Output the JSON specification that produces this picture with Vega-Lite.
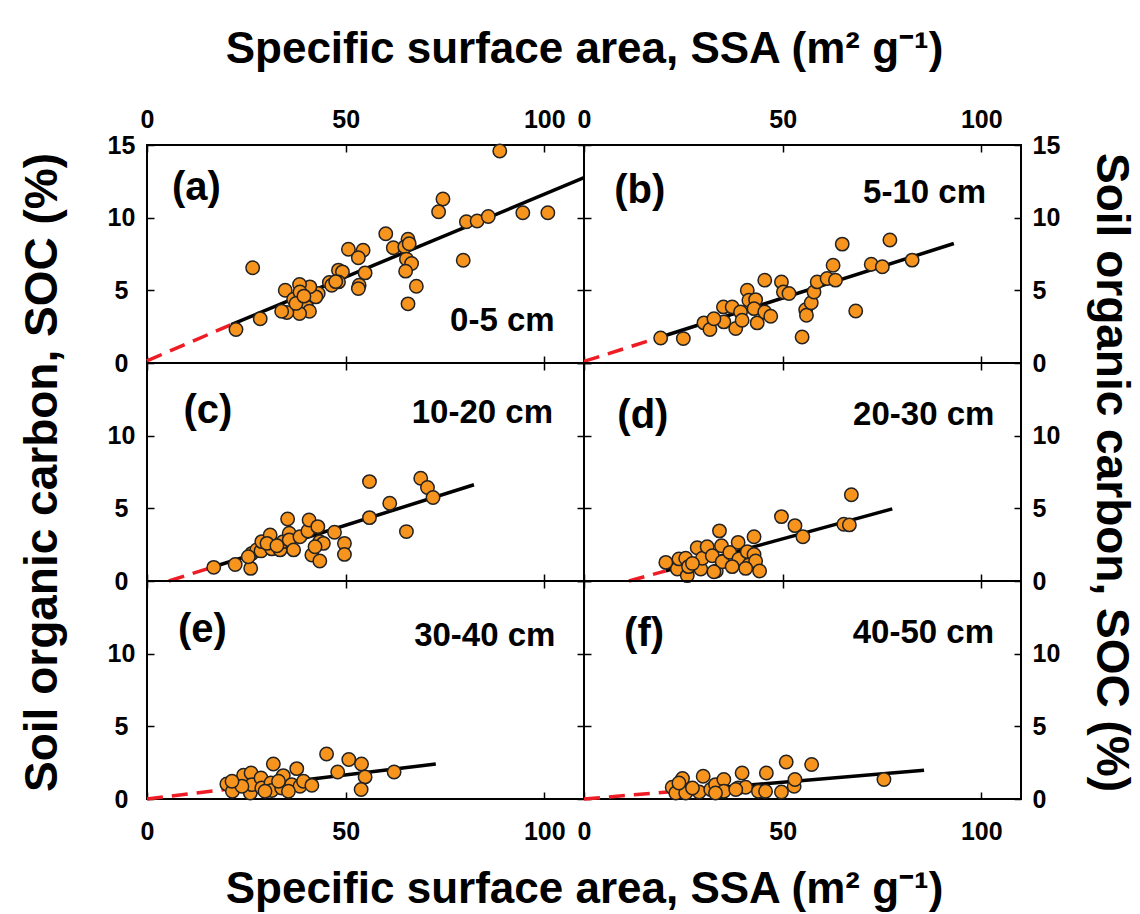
{
  "$schema": "https://vega.github.io/schema/vega-lite/v6.json",
  "background": "white",
  "padding": {"left": 17, "top": 26, "right": 5, "bottom": 5},
  "spacing": 0,
  "bounds": "flush",
  "columns": 2,
  "datasets": {
    "pts": [
      {"p":"a","x":88.8,"y":14.59},{"p":"a","x":74.5,"y":11.28},{"p":"a","x":73.4,"y":10.41},{"p":"a","x":94.6,"y":10.34},{"p":"a","x":100.9,"y":10.34},{"p":"a","x":80.4,"y":9.72},{"p":"a","x":83.1,"y":9.77},{"p":"a","x":85.9,"y":10.08},{"p":"a","x":60.1,"y":8.89},{"p":"a","x":65.7,"y":8.52},{"p":"a","x":62.0,"y":7.93},{"p":"a","x":64.9,"y":7.99},{"p":"a","x":65.3,"y":7.15},{"p":"a","x":66.6,"y":6.85},{"p":"a","x":65.1,"y":6.32},{"p":"a","x":67.8,"y":5.28},{"p":"a","x":65.7,"y":4.07},{"p":"a","x":79.6,"y":7.07},{"p":"a","x":50.7,"y":7.83},{"p":"a","x":54.4,"y":7.76},{"p":"a","x":53.2,"y":7.24},{"p":"a","x":54.9,"y":6.2},{"p":"a","x":53.4,"y":5.35},{"p":"a","x":53.2,"y":5.12},{"p":"a","x":48.2,"y":6.39},{"p":"a","x":49.2,"y":6.27},{"p":"a","x":48.2,"y":5.58},{"p":"a","x":45.9,"y":5.54},{"p":"a","x":46.5,"y":5.35},{"p":"a","x":43.1,"y":4.78},{"p":"a","x":42.5,"y":4.55},{"p":"a","x":41.0,"y":5.24},{"p":"a","x":38.4,"y":5.4},{"p":"a","x":34.8,"y":5.01},{"p":"a","x":36.9,"y":4.39},{"p":"a","x":38.5,"y":4.89},{"p":"a","x":40.2,"y":3.86},{"p":"a","x":40.9,"y":3.56},{"p":"a","x":38.4,"y":3.4},{"p":"a","x":35.2,"y":3.47},{"p":"a","x":33.9,"y":3.56},{"p":"a","x":28.5,"y":3.05},{"p":"a","x":22.4,"y":2.3},{"p":"a","x":26.6,"y":6.55},{"p":"a","x":37.5,"y":4.1},{"p":"a","x":39.5,"y":4.6},{"p":"a","x":47.5,"y":5.6},{"p":"a","x":66.0,"y":8.2},
      {"p":"b","x":19.3,"y":1.72},{"p":"b","x":25.0,"y":1.68},{"p":"b","x":30.2,"y":2.76},{"p":"b","x":31.7,"y":2.3},{"p":"b","x":35.1,"y":3.86},{"p":"b","x":35.2,"y":2.83},{"p":"b","x":37.3,"y":3.86},{"p":"b","x":38.2,"y":2.37},{"p":"b","x":39.4,"y":3.51},{"p":"b","x":39.8,"y":2.94},{"p":"b","x":41.1,"y":5.01},{"p":"b","x":41.5,"y":4.32},{"p":"b","x":43.2,"y":4.36},{"p":"b","x":42.8,"y":3.74},{"p":"b","x":43.6,"y":2.76},{"p":"b","x":45.5,"y":5.7},{"p":"b","x":45.5,"y":3.51},{"p":"b","x":47.0,"y":3.22},{"p":"b","x":49.7,"y":5.58},{"p":"b","x":50.2,"y":4.89},{"p":"b","x":51.6,"y":4.78},{"p":"b","x":54.9,"y":1.79},{"p":"b","x":55.8,"y":3.67},{"p":"b","x":56.0,"y":3.29},{"p":"b","x":57.2,"y":4.14},{"p":"b","x":57.9,"y":4.89},{"p":"b","x":58.7,"y":5.58},{"p":"b","x":61.2,"y":5.81},{"p":"b","x":63.3,"y":5.7},{"p":"b","x":62.7,"y":6.73},{"p":"b","x":65.0,"y":8.18},{"p":"b","x":68.4,"y":3.58},{"p":"b","x":72.3,"y":6.8},{"p":"b","x":75.1,"y":6.62},{"p":"b","x":77.0,"y":8.46},{"p":"b","x":82.6,"y":7.08},{"p":"b","x":32.7,"y":3.05},
      {"p":"c","x":16.8,"y":0.94},{"p":"c","x":22.2,"y":1.14},{"p":"c","x":26.1,"y":0.87},{"p":"c","x":26.4,"y":1.9},{"p":"c","x":27.6,"y":2.14},{"p":"c","x":28.7,"y":2.07},{"p":"c","x":28.9,"y":2.71},{"p":"c","x":31.0,"y":3.17},{"p":"c","x":31.4,"y":2.21},{"p":"c","x":33.5,"y":2.14},{"p":"c","x":34.3,"y":2.71},{"p":"c","x":35.4,"y":4.27},{"p":"c","x":35.8,"y":3.28},{"p":"c","x":35.8,"y":2.83},{"p":"c","x":36.9,"y":2.14},{"p":"c","x":38.5,"y":3.05},{"p":"c","x":40.5,"y":3.44},{"p":"c","x":40.8,"y":4.2},{"p":"c","x":43.0,"y":3.74},{"p":"c","x":41.5,"y":1.79},{"p":"c","x":43.5,"y":1.38},{"p":"c","x":43.5,"y":2.71},{"p":"c","x":44.4,"y":2.59},{"p":"c","x":47.2,"y":3.35},{"p":"c","x":49.7,"y":2.59},{"p":"c","x":49.7,"y":1.83},{"p":"c","x":56.0,"y":4.36},{"p":"c","x":56.0,"y":6.84},{"p":"c","x":61.1,"y":5.35},{"p":"c","x":65.3,"y":3.4},{"p":"c","x":68.9,"y":7.07},{"p":"c","x":70.6,"y":6.43},{"p":"c","x":72.0,"y":5.74},{"p":"c","x":25.5,"y":1.67},{"p":"c","x":30.2,"y":2.59},{"p":"c","x":32.7,"y":2.43},{"p":"c","x":42.3,"y":2.36},
      {"p":"d","x":20.6,"y":1.28},{"p":"d","x":23.5,"y":0.83},{"p":"d","x":23.9,"y":1.52},{"p":"d","x":25.6,"y":1.56},{"p":"d","x":26.0,"y":0.37},{"p":"d","x":26.3,"y":0.99},{"p":"d","x":28.5,"y":2.29},{"p":"d","x":29.4,"y":0.83},{"p":"d","x":29.8,"y":1.56},{"p":"d","x":31.0,"y":2.36},{"p":"d","x":32.3,"y":1.74},{"p":"d","x":33.3,"y":0.69},{"p":"d","x":34.1,"y":3.45},{"p":"d","x":34.6,"y":2.43},{"p":"d","x":34.8,"y":1.33},{"p":"d","x":36.7,"y":1.97},{"p":"d","x":38.8,"y":2.66},{"p":"d","x":39.0,"y":1.52},{"p":"d","x":41.1,"y":2.02},{"p":"d","x":41.5,"y":1.1},{"p":"d","x":42.8,"y":3.05},{"p":"d","x":42.8,"y":1.83},{"p":"d","x":43.2,"y":1.38},{"p":"d","x":44.2,"y":0.69},{"p":"d","x":49.7,"y":4.43},{"p":"d","x":53.1,"y":3.81},{"p":"d","x":55.1,"y":3.05},{"p":"d","x":65.4,"y":3.9},{"p":"d","x":66.8,"y":3.86},{"p":"d","x":67.3,"y":5.93},{"p":"d","x":27.3,"y":1.21},{"p":"d","x":37.3,"y":0.99},{"p":"d","x":40.7,"y":0.87},{"p":"d","x":32.7,"y":0.64},
      {"p":"e","x":20.1,"y":1.03},{"p":"e","x":21.5,"y":0.53},{"p":"e","x":24.3,"y":1.63},{"p":"e","x":26.2,"y":1.79},{"p":"e","x":26.0,"y":0.41},{"p":"e","x":26.4,"y":0.99},{"p":"e","x":28.7,"y":1.45},{"p":"e","x":28.9,"y":0.76},{"p":"e","x":31.2,"y":1.1},{"p":"e","x":31.8,"y":2.41},{"p":"e","x":31.4,"y":0.58},{"p":"e","x":33.9,"y":0.76},{"p":"e","x":34.3,"y":1.61},{"p":"e","x":36.4,"y":0.99},{"p":"e","x":37.7,"y":2.09},{"p":"e","x":38.5,"y":0.88},{"p":"e","x":39.4,"y":1.22},{"p":"e","x":41.5,"y":0.94},{"p":"e","x":45.2,"y":3.1},{"p":"e","x":48.0,"y":1.86},{"p":"e","x":50.8,"y":2.72},{"p":"e","x":54.0,"y":2.41},{"p":"e","x":54.9,"y":1.52},{"p":"e","x":53.9,"y":0.65},{"p":"e","x":62.2,"y":1.86},{"p":"e","x":23.9,"y":0.88},{"p":"e","x":29.7,"y":0.53},{"p":"e","x":35.6,"y":0.53},{"p":"e","x":33.1,"y":1.22},{"p":"e","x":21.4,"y":1.22},
      {"p":"f","x":22.2,"y":0.81},{"p":"f","x":23.1,"y":0.41},{"p":"f","x":24.8,"y":1.41},{"p":"f","x":25.6,"y":0.41},{"p":"f","x":29.0,"y":0.48},{"p":"f","x":30.0,"y":1.56},{"p":"f","x":31.9,"y":0.65},{"p":"f","x":33.1,"y":0.99},{"p":"f","x":35.2,"y":1.34},{"p":"f","x":35.2,"y":0.53},{"p":"f","x":38.8,"y":0.76},{"p":"f","x":39.8,"y":1.79},{"p":"f","x":40.7,"y":0.81},{"p":"f","x":43.9,"y":0.53},{"p":"f","x":45.9,"y":1.79},{"p":"f","x":45.7,"y":0.53},{"p":"f","x":49.7,"y":0.48},{"p":"f","x":50.9,"y":2.55},{"p":"f","x":52.9,"y":0.88},{"p":"f","x":53.1,"y":1.34},{"p":"f","x":57.3,"y":2.37},{"p":"f","x":75.5,"y":1.34},{"p":"f","x":27.3,"y":0.76},{"p":"f","x":38.2,"y":0.65},{"p":"f","x":33.1,"y":0.41},{"p":"f","x":23.9,"y":1.1}
    ],
    "lines": [
      {"p":"a","k":"fit","x":21.2,"y":2.64},{"p":"a","k":"fit","x":110,"y":12.75},{"p":"a","k":"ext","x":0,"y":0.15},{"p":"a","k":"ext","x":21.2,"y":2.64},
      {"p":"b","k":"fit","x":19.3,"y":1.79},{"p":"b","k":"fit","x":93.1,"y":8.22},{"p":"b","k":"ext","x":0,"y":0.11},{"p":"b","k":"ext","x":19.3,"y":1.79},
      {"p":"c","k":"fit","x":16.8,"y":0.98},{"p":"c","k":"fit","x":82.3,"y":6.62},{"p":"c","k":"ext","x":5.5,"y":0},{"p":"c","k":"ext","x":16.8,"y":0.98},
      {"p":"d","k":"fit","x":20.6,"y":0.7},{"p":"d","k":"fit","x":77.6,"y":4.96},{"p":"d","k":"ext","x":11.3,"y":0},{"p":"d","k":"ext","x":20.6,"y":0.7},
      {"p":"e","k":"fit","x":20.1,"y":0.67},{"p":"e","k":"fit","x":72.7,"y":2.41},{"p":"e","k":"ext","x":0,"y":0},{"p":"e","k":"ext","x":20.1,"y":0.67},
      {"p":"f","k":"fit","x":21.8,"y":0.5},{"p":"f","k":"fit","x":85.6,"y":1.98},{"p":"f","k":"ext","x":0,"y":0},{"p":"f","k":"ext","x":21.8,"y":0.5}
    ],
    "labels": [
      {"p":"a","k":"pl","t":"(a)","x":6.3,"y":11.2},{"p":"a","k":"dp","t":"0-5 cm","x":102.6,"y":2.2},
      {"p":"b","k":"pl","t":"(b)","x":7.6,"y":11.0},{"p":"b","k":"dp","t":"5-10 cm","x":101.2,"y":11.0},
      {"p":"c","k":"pl","t":"(c)","x":9.2,"y":10.86},{"p":"c","k":"dp","t":"10-20 cm","x":102.2,"y":10.86},
      {"p":"d","k":"pl","t":"(d)","x":8.4,"y":10.5},{"p":"d","k":"dp","t":"20-30 cm","x":103.3,"y":10.7},
      {"p":"e","k":"pl","t":"(e)","x":7.8,"y":10.8},{"p":"e","k":"dp","t":"30-40 cm","x":102.8,"y":10.5},
      {"p":"f","k":"pl","t":"(f)","x":10.1,"y":10.5},{"p":"f","k":"dp","t":"40-50 cm","x":103.2,"y":10.75}
    ]
  },
  "concat": [
    {
      "width": 437, "height": 218,
      "layer": [
        {"data":{"name":"lines"},"transform":[{"filter":"datum.p=='a' && datum.k=='fit'"}],
         "mark":{"type":"line","color":"black","strokeWidth":3.5},
         "encoding":{"x":{"field":"x","type":"quantitative","scale":{"domain":[0,110],"nice":false,"zero":false},"axis":{"orient":"top","values":[0,50,100],"labelPadding":20,"title":"Specific surface area, SSA (m² g⁻¹)","titleFontSize":44,"titleX":437,"titleY":-83,"titleAlign":"center","titleBaseline":"alphabetic","titleAngle":0}},
                     "y":{"field":"y","type":"quantitative","scale":{"domain":[0,15],"nice":false,"zero":false},"axis":{"orient":"right","values":[0,5,10,15],"labels":false,"title":null}}}},
        {"data":{"name":"lines"},"transform":[{"filter":"datum.p=='a' && datum.k=='ext'"}],
         "mark":{"type":"line","color":"#ee1c24","strokeWidth":3.5,"strokeDash":[16,9]},
         "encoding":{"x":{"field":"x","type":"quantitative","axis":null},"y":{"field":"y","type":"quantitative","axis":null}}},
        {"data":{"name":"pts"},"transform":[{"filter":"datum.p=='a'"}],
         "mark":{"type":"point","shape":"circle","filled":true,"fill":"#f7941d","stroke":"#222222","strokeWidth":1.5,"size":180,"opacity":1},
         "encoding":{"x":{"field":"x","type":"quantitative","axis":{"orient":"bottom","values":[0,50,100],"labels":false,"title":null}},
                     "y":{"field":"y","type":"quantitative","axis":{"orient":"left","values":[0,5,10,15],"labelAlign":"center","labelPadding":33,"title":null}}}},
        {"data":{"name":"labels"},"transform":[{"filter":"datum.p=='a' && datum.k=='pl'"}],
         "mark":{"type":"text","align":"left","baseline":"alphabetic","font":"Liberation Sans","fontWeight":"bold","fontSize":40,"color":"black"},
         "encoding":{"x":{"field":"x","type":"quantitative","axis":null},"y":{"field":"y","type":"quantitative","axis":null},"text":{"field":"t"}}},
        {"data":{"name":"labels"},"transform":[{"filter":"datum.p=='a' && datum.k=='dp'"}],
         "mark":{"type":"text","align":"right","baseline":"alphabetic","font":"Liberation Sans","fontWeight":"bold","fontSize":33,"color":"black"},
         "encoding":{"x":{"field":"x","type":"quantitative","axis":null},"y":{"field":"y","type":"quantitative","axis":null},"text":{"field":"t"}}}
      ],
      "resolve": {"axis": {"x": "independent", "y": "independent"}}
    },
    {
      "width": 437, "height": 218,
      "layer": [
        {"data":{"name":"lines"},"transform":[{"filter":"datum.p=='b' && datum.k=='fit'"}],
         "mark":{"type":"line","color":"black","strokeWidth":3.5},
         "encoding":{"x":{"field":"x","type":"quantitative","scale":{"domain":[0,110],"nice":false,"zero":false},"axis":{"orient":"top","values":[0,50,100],"labelPadding":20,"title":null}},
                     "y":{"field":"y","type":"quantitative","scale":{"domain":[0,15],"nice":false,"zero":false},"axis":{"orient":"right","values":[0,5,10,15],"labelAlign":"left","labelPadding":18,"title":null}}}},
        {"data":{"name":"lines"},"transform":[{"filter":"datum.p=='b' && datum.k=='ext'"}],
         "mark":{"type":"line","color":"#ee1c24","strokeWidth":3.5,"strokeDash":[16,9]},
         "encoding":{"x":{"field":"x","type":"quantitative","axis":null},"y":{"field":"y","type":"quantitative","axis":null}}},
        {"data":{"name":"pts"},"transform":[{"filter":"datum.p=='b'"}],
         "mark":{"type":"point","shape":"circle","filled":true,"fill":"#f7941d","stroke":"#222222","strokeWidth":1.5,"size":180,"opacity":1},
         "encoding":{"x":{"field":"x","type":"quantitative","axis":{"orient":"bottom","values":[0,50,100],"labels":false,"title":null}},
                     "y":{"field":"y","type":"quantitative","axis":{"orient":"left","values":[0,5,10,15],"labels":false,"title":null}}}},
        {"data":{"name":"labels"},"transform":[{"filter":"datum.p=='b' && datum.k=='pl'"}],
         "mark":{"type":"text","align":"left","baseline":"alphabetic","font":"Liberation Sans","fontWeight":"bold","fontSize":40,"color":"black"},
         "encoding":{"x":{"field":"x","type":"quantitative","axis":null},"y":{"field":"y","type":"quantitative","axis":null},"text":{"field":"t"}}},
        {"data":{"name":"labels"},"transform":[{"filter":"datum.p=='b' && datum.k=='dp'"}],
         "mark":{"type":"text","align":"right","baseline":"alphabetic","font":"Liberation Sans","fontWeight":"bold","fontSize":33,"color":"black"},
         "encoding":{"x":{"field":"x","type":"quantitative","axis":null},"y":{"field":"y","type":"quantitative","axis":null},"text":{"field":"t"}}}
      ],
      "resolve": {"axis": {"x": "independent", "y": "independent"}}
    },
    {
      "width": 437, "height": 218,
      "layer": [
        {"data":{"name":"lines"},"transform":[{"filter":"datum.p=='c' && datum.k=='fit'"}],
         "mark":{"type":"line","color":"black","strokeWidth":3.5},
         "encoding":{"x":{"field":"x","type":"quantitative","scale":{"domain":[0,110],"nice":false,"zero":false},"axis":{"orient":"top","values":[0,50,100],"labels":false,"title":null}},
                     "y":{"field":"y","type":"quantitative","scale":{"domain":[0,15],"nice":false,"zero":false},"axis":{"orient":"right","values":[0,5,10,15],"labels":false,"title":null}}}},
        {"data":{"name":"lines"},"transform":[{"filter":"datum.p=='c' && datum.k=='ext'"}],
         "mark":{"type":"line","color":"#ee1c24","strokeWidth":3.5,"strokeDash":[16,9]},
         "encoding":{"x":{"field":"x","type":"quantitative","axis":null},"y":{"field":"y","type":"quantitative","axis":null}}},
        {"data":{"name":"pts"},"transform":[{"filter":"datum.p=='c'"}],
         "mark":{"type":"point","shape":"circle","filled":true,"fill":"#f7941d","stroke":"#222222","strokeWidth":1.5,"size":180,"opacity":1},
         "encoding":{"x":{"field":"x","type":"quantitative","axis":{"orient":"bottom","values":[0,50,100],"labels":false,"title":null}},
                     "y":{"field":"y","type":"quantitative","axis":{"orient":"left","values":[0,5,10],"labelAlign":"center","labelPadding":33,"title":"Soil organic carbon, SOC (%)","titleFontSize":46,"titleX":-105,"titleY":109,"titleAngle":-90,"titleAlign":"center","titleBaseline":"middle"}}}},
        {"data":{"name":"labels"},"transform":[{"filter":"datum.p=='c' && datum.k=='pl'"}],
         "mark":{"type":"text","align":"left","baseline":"alphabetic","font":"Liberation Sans","fontWeight":"bold","fontSize":40,"color":"black"},
         "encoding":{"x":{"field":"x","type":"quantitative","axis":null},"y":{"field":"y","type":"quantitative","axis":null},"text":{"field":"t"}}},
        {"data":{"name":"labels"},"transform":[{"filter":"datum.p=='c' && datum.k=='dp'"}],
         "mark":{"type":"text","align":"right","baseline":"alphabetic","font":"Liberation Sans","fontWeight":"bold","fontSize":33,"color":"black"},
         "encoding":{"x":{"field":"x","type":"quantitative","axis":null},"y":{"field":"y","type":"quantitative","axis":null},"text":{"field":"t"}}}
      ],
      "resolve": {"axis": {"x": "independent", "y": "independent"}}
    },
    {
      "width": 437, "height": 218,
      "layer": [
        {"data":{"name":"lines"},"transform":[{"filter":"datum.p=='d' && datum.k=='fit'"}],
         "mark":{"type":"line","color":"black","strokeWidth":3.5},
         "encoding":{"x":{"field":"x","type":"quantitative","scale":{"domain":[0,110],"nice":false,"zero":false},"axis":{"orient":"top","values":[0,50,100],"labels":false,"title":null}},
                     "y":{"field":"y","type":"quantitative","scale":{"domain":[0,15],"nice":false,"zero":false},"axis":{"orient":"right","values":[0,5,10],"labelAlign":"left","labelPadding":18,"title":"Soil organic carbon, SOC (%)","titleFontSize":46,"titleX":89,"titleY":109,"titleAngle":90,"titleAlign":"center","titleBaseline":"middle"}}}},
        {"data":{"name":"lines"},"transform":[{"filter":"datum.p=='d' && datum.k=='ext'"}],
         "mark":{"type":"line","color":"#ee1c24","strokeWidth":3.5,"strokeDash":[16,9]},
         "encoding":{"x":{"field":"x","type":"quantitative","axis":null},"y":{"field":"y","type":"quantitative","axis":null}}},
        {"data":{"name":"pts"},"transform":[{"filter":"datum.p=='d'"}],
         "mark":{"type":"point","shape":"circle","filled":true,"fill":"#f7941d","stroke":"#222222","strokeWidth":1.5,"size":180,"opacity":1},
         "encoding":{"x":{"field":"x","type":"quantitative","axis":{"orient":"bottom","values":[0,50,100],"labels":false,"title":null}},
                     "y":{"field":"y","type":"quantitative","axis":{"orient":"left","values":[0,5,10,15],"labels":false,"title":null}}}},
        {"data":{"name":"labels"},"transform":[{"filter":"datum.p=='d' && datum.k=='pl'"}],
         "mark":{"type":"text","align":"left","baseline":"alphabetic","font":"Liberation Sans","fontWeight":"bold","fontSize":40,"color":"black"},
         "encoding":{"x":{"field":"x","type":"quantitative","axis":null},"y":{"field":"y","type":"quantitative","axis":null},"text":{"field":"t"}}},
        {"data":{"name":"labels"},"transform":[{"filter":"datum.p=='d' && datum.k=='dp'"}],
         "mark":{"type":"text","align":"right","baseline":"alphabetic","font":"Liberation Sans","fontWeight":"bold","fontSize":33,"color":"black"},
         "encoding":{"x":{"field":"x","type":"quantitative","axis":null},"y":{"field":"y","type":"quantitative","axis":null},"text":{"field":"t"}}}
      ],
      "resolve": {"axis": {"x": "independent", "y": "independent"}}
    },
    {
      "width": 437, "height": 218,
      "layer": [
        {"data":{"name":"lines"},"transform":[{"filter":"datum.p=='e' && datum.k=='fit'"}],
         "mark":{"type":"line","color":"black","strokeWidth":3.5},
         "encoding":{"x":{"field":"x","type":"quantitative","scale":{"domain":[0,110],"nice":false,"zero":false},"axis":{"orient":"top","values":[0,50,100],"labels":false,"title":null}},
                     "y":{"field":"y","type":"quantitative","scale":{"domain":[0,15],"nice":false,"zero":false},"axis":{"orient":"right","values":[0,5,10,15],"labels":false,"title":null}}}},
        {"data":{"name":"lines"},"transform":[{"filter":"datum.p=='e' && datum.k=='ext'"}],
         "mark":{"type":"line","color":"#ee1c24","strokeWidth":3.5,"strokeDash":[16,9]},
         "encoding":{"x":{"field":"x","type":"quantitative","axis":null},"y":{"field":"y","type":"quantitative","axis":null}}},
        {"data":{"name":"pts"},"transform":[{"filter":"datum.p=='e'"}],
         "mark":{"type":"point","shape":"circle","filled":true,"fill":"#f7941d","stroke":"#222222","strokeWidth":1.5,"size":180,"opacity":1},
         "encoding":{"x":{"field":"x","type":"quantitative","axis":{"orient":"bottom","values":[0,50,100],"labelPadding":27,"title":"Specific surface area, SSA (m² g⁻¹)","titleFontSize":44,"titleX":437,"titleY":103,"titleAlign":"center","titleBaseline":"alphabetic","titleAngle":0}},
                     "y":{"field":"y","type":"quantitative","axis":{"orient":"left","values":[0,5,10],"labelAlign":"center","labelPadding":33,"title":null}}}},
        {"data":{"name":"labels"},"transform":[{"filter":"datum.p=='e' && datum.k=='pl'"}],
         "mark":{"type":"text","align":"left","baseline":"alphabetic","font":"Liberation Sans","fontWeight":"bold","fontSize":40,"color":"black"},
         "encoding":{"x":{"field":"x","type":"quantitative","axis":null},"y":{"field":"y","type":"quantitative","axis":null},"text":{"field":"t"}}},
        {"data":{"name":"labels"},"transform":[{"filter":"datum.p=='e' && datum.k=='dp'"}],
         "mark":{"type":"text","align":"right","baseline":"alphabetic","font":"Liberation Sans","fontWeight":"bold","fontSize":33,"color":"black"},
         "encoding":{"x":{"field":"x","type":"quantitative","axis":null},"y":{"field":"y","type":"quantitative","axis":null},"text":{"field":"t"}}}
      ],
      "resolve": {"axis": {"x": "independent", "y": "independent"}}
    },
    {
      "width": 437, "height": 218,
      "layer": [
        {"data":{"name":"lines"},"transform":[{"filter":"datum.p=='f' && datum.k=='fit'"}],
         "mark":{"type":"line","color":"black","strokeWidth":3.5},
         "encoding":{"x":{"field":"x","type":"quantitative","scale":{"domain":[0,110],"nice":false,"zero":false},"axis":{"orient":"top","values":[0,50,100],"labels":false,"title":null}},
                     "y":{"field":"y","type":"quantitative","scale":{"domain":[0,15],"nice":false,"zero":false},"axis":{"orient":"right","values":[0,5,10],"labelAlign":"left","labelPadding":18,"title":null}}}},
        {"data":{"name":"lines"},"transform":[{"filter":"datum.p=='f' && datum.k=='ext'"}],
         "mark":{"type":"line","color":"#ee1c24","strokeWidth":3.5,"strokeDash":[16,9]},
         "encoding":{"x":{"field":"x","type":"quantitative","axis":null},"y":{"field":"y","type":"quantitative","axis":null}}},
        {"data":{"name":"pts"},"transform":[{"filter":"datum.p=='f'"}],
         "mark":{"type":"point","shape":"circle","filled":true,"fill":"#f7941d","stroke":"#222222","strokeWidth":1.5,"size":180,"opacity":1},
         "encoding":{"x":{"field":"x","type":"quantitative","axis":{"orient":"bottom","values":[0,50,100],"labelPadding":27,"title":null}},
                     "y":{"field":"y","type":"quantitative","axis":{"orient":"left","values":[0,5,10,15],"labels":false,"title":null}}}},
        {"data":{"name":"labels"},"transform":[{"filter":"datum.p=='f' && datum.k=='pl'"}],
         "mark":{"type":"text","align":"left","baseline":"alphabetic","font":"Liberation Sans","fontWeight":"bold","fontSize":40,"color":"black"},
         "encoding":{"x":{"field":"x","type":"quantitative","axis":null},"y":{"field":"y","type":"quantitative","axis":null},"text":{"field":"t"}}},
        {"data":{"name":"labels"},"transform":[{"filter":"datum.p=='f' && datum.k=='dp'"}],
         "mark":{"type":"text","align":"right","baseline":"alphabetic","font":"Liberation Sans","fontWeight":"bold","fontSize":33,"color":"black"},
         "encoding":{"x":{"field":"x","type":"quantitative","axis":null},"y":{"field":"y","type":"quantitative","axis":null},"text":{"field":"t"}}}
      ],
      "resolve": {"axis": {"x": "independent", "y": "independent"}}
    }
  ],
  "config": {
    "view": {"stroke": "black", "strokeWidth": 2},
    "axis": {
      "domain": false, "grid": false, "ticks": true, "tickSize": -7, "tickWidth": 1.5, "tickColor": "black",
      "labelFont": "Liberation Sans", "labelFontWeight": "bold", "labelFontSize": 25, "labelColor": "black",
      "labelFlush": false, "labelOverlap": false, "labelBound": false,
      "titleFont": "Liberation Sans", "titleFontWeight": "bold", "titleColor": "black"
    }
  }
}
